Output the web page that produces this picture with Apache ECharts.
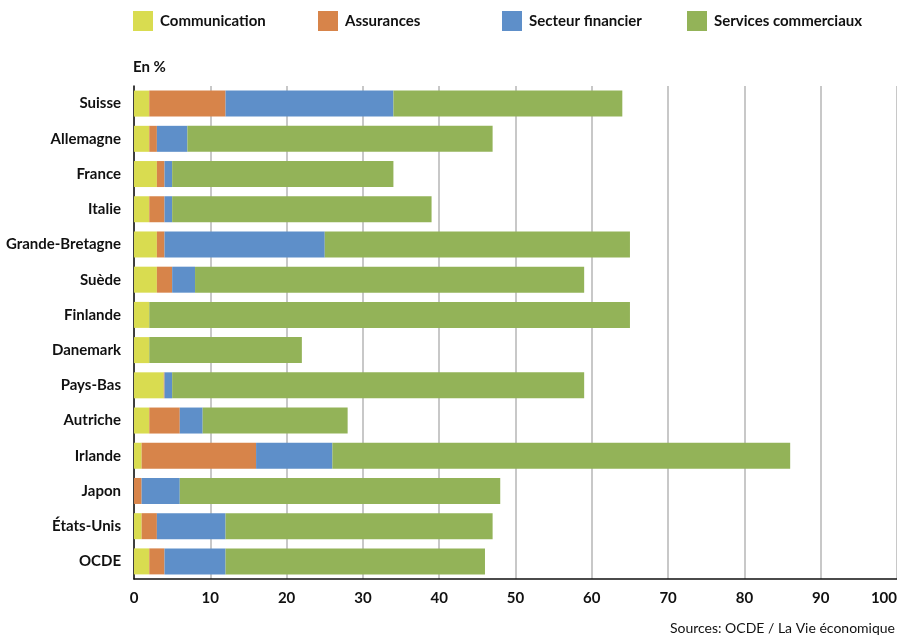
<!DOCTYPE html>
<html><head><meta charset="utf-8">
<script src="https://cdn.jsdelivr.net/npm/echarts@6/dist/echarts.min.js"></script>
<style>html,body{margin:0;padding:0;background:#fff}#c{width:897px;height:636px}</style>
</head><body><div id="c"></div>
<script>
const categories = ['Suisse','Allemagne','France','Italie','Grande-Bretagne','Suède','Finlande','Danemark','Pays-Bas','Autriche','Irlande','Japon','États-Unis','OCDE'];
const communication = [2,2,3,2,3,3,2,2,3.9,2,1,0,1,2];
const assurances = [10,1,1,2,1,2,0,0,0.1,4,15,1,2,2];
const secteurFinancier = [22,4,1,1,21,3,0,0,1,3,10,5,9,8];
const servicesCommerciaux = [30,40,29,34,40,51,63,20,54,19,60,42,35,34];
const seriesNames = ['Communication','Assurances','Secteur financier','Services commerciaux'];
const colors = ['#D9DC50','#D7844A','#5E8FC9','#93B358'];
const xTicks = [0,10,20,30,40,50,60,70,80,90,100];

const FONT = 'Lato';
const chart = echarts.init(document.getElementById('c'));
const dataSets = [communication, assurances, secteurFinancier, servicesCommerciaux];
const legendLefts = [128, 313, 497, 682];
chart.setOption({
  animation: false,
  color: colors,
  textStyle: {fontFamily: FONT},
  legend: seriesNames.map((n, i) => ({
    data: [n], left: legendLefts[i], top: 6, itemWidth: 20, itemHeight: 20, itemGap: 0,
    icon: 'rect', selectedMode: false,
    textStyle: {fontFamily: FONT, fontWeight: 'bold', fontSize: 15, color: '#111', padding: [0,0,0,2]}
  })),
  title: [
    {text: 'En %', left: 128, top: 55, textStyle: {fontFamily: FONT, fontWeight: 'bold', fontSize: 15, color: '#111'}},
    {text: 'Sources: OCDE / La Vie économique', right: -3, top: 616, textStyle: {fontFamily: FONT, fontWeight: 'normal', fontSize: 14, color: '#111'}}
  ],
  grid: {left: 134, right: 0, top: 86, bottom: 57, containLabel: false, outerBoundsMode: 'none'},
  xAxis: {
    type: 'value', min: 0, max: 100, interval: 10,
    axisLine: {show: true, lineStyle: {color: '#111', width: 1.5}},
    axisTick: {show: false},
    splitLine: {show: true, lineStyle: {color: '#c8c8c8', width: 2}},
    axisLabel: {fontFamily: FONT, fontWeight: 'bold', fontSize: 15, color: '#111', margin: 12, alignMaxLabel: 'right',
      formatter: v => xTicks.includes(v) ? String(v) : ''}
  },
  yAxis: {
    type: 'category', data: categories, inverse: true,
    axisLine: {show: true, lineStyle: {color: '#111', width: 1.5}},
    axisTick: {show: false},
    axisLabel: {fontFamily: FONT, fontWeight: 'bold', fontSize: 15, color: '#111', margin: 13}
  },
  series: seriesNames.map((n, i) => ({
    name: n, type: 'bar', stack: 'total', data: dataSets[i], barWidth: 26,
    itemStyle: {color: colors[i]}
  }))
});
</script></body></html>
